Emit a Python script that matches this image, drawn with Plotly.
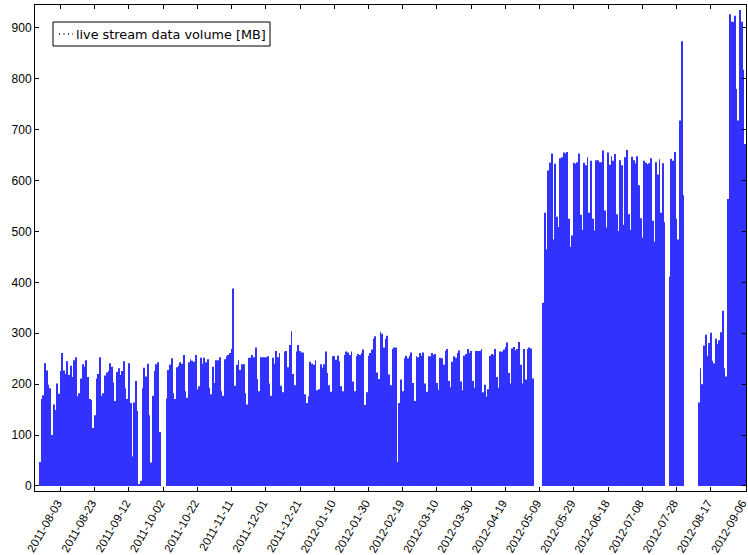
import pandas as pd
import plotly.graph_objects as go

# Daily live-stream data volume [MB], split into contiguous runs of days
seg1_start = "2011-07-22"
seg1_values = [47, 171, 178, 241, 227, 199, 192, 100, 160, 149, 201, 181, 226, 261, 227, 220,
               245, 218, 236, 214, 247, 253, 176, 182, 211, 239, 234, 247, 214, 171, 169, 114,
               139, 211, 220, 253, 177, 182, 217, 223, 226, 241, 234, 203, 167, 224, 231, 218,
               226, 245, 192, 171, 241, 163, 58, 164, 206, 147, 3, 10, 192, 232, 215, 240,
               139, 46, 177, 226, 239, 243, 106]

seg2_start = "2011-10-04"
seg2_values = [172, 228, 238, 251, 182, 171, 233, 236, 243, 240, 257, 186, 173, 243, 249, 246,
               244, 257, 190, 196, 252, 240, 252, 243, 249, 193, 180, 234, 202, 247, 247, 253,
               186, 177, 249, 255, 257, 261, 269, 388, 197, 238, 247, 228, 239, 239, 182, 160,
               252, 252, 257, 253, 272, 210, 186, 253, 253, 253, 253, 255, 201, 177, 252, 240,
               265, 253, 261, 197, 184]

seg3_start = "2011-12-12"
seg3_values = [264, 265, 233, 277, 304, 220, 198, 264, 277, 265, 262, 262, 180, 163, 176, 244,
               240, 238, 247, 188, 190, 239, 232, 239, 264, 222, 198, 185, 255, 255, 248, 256,
               245, 196, 186, 257, 264, 262, 257, 264, 205, 186, 255, 259, 257, 261, 268, 159,
               184, 256, 261, 268, 289, 294, 223, 210, 303, 299, 272, 289, 295, 219, 198, 269,
               272, 272, 47, 163, 209, 186, 251, 256, 251]

seg4_start = "2012-02-23"
seg4_values = [256, 262, 202, 167, 255, 253, 261, 256, 262, 201, 185, 255, 255, 261, 257, 259,
               202, 189, 252, 251, 238, 265, 269, 206, 194, 244, 255, 252, 261, 266, 205, 188,
               256, 259, 269, 261, 265, 206, 193, 265, 265, 265, 269, 184, 199, 175, 190, 256,
               259, 257, 269, 214, 193, 264, 264, 268, 273, 282, 222, 201, 270, 273, 266, 269,
               283, 238, 201, 269, 209, 269, 272, 270, 211]

seg5_start = "2012-05-11"
seg5_values = [360, 537, 465, 620, 635, 653, 484, 633, 529, 509, 644, 646, 655, 653, 656, 525,
               470, 492, 635, 633, 636, 653, 533, 503, 635, 630, 646, 537, 639, 525, 502, 640,
               640, 636, 636, 659, 541, 508, 655, 631, 648, 639, 652, 534, 501, 640, 630, 513,
               646, 660, 534, 503, 647, 640, 634, 648, 591, 526, 488, 639, 635, 632, 634, 644,
               521, 480, 636, 612, 642, 537, 634, 518]

seg6_start = "2012-07-24"
seg6_values = [411, 643, 639, 656, 525, 484, 718, 874, 571]

seg7_start = "2012-08-10"
seg7_values = [164, 231, 200, 276, 297, 256, 281, 301, 246, 241, 289, 279, 286, 302, 344, 231,
               215, 564, 927, 912, 912, 924, 780, 718, 935, 912, 818, 672]

segments = [(seg1_start, seg1_values), (seg2_start, seg2_values), (seg3_start, seg3_values),
            (seg4_start, seg4_values), (seg5_start, seg5_values), (seg6_start, seg6_values),
            (seg7_start, seg7_values)]

tick_labels = ["2011-08-03", "2011-08-23", "2011-09-12", "2011-10-02", "2011-10-22",
               "2011-11-11", "2011-12-01", "2011-12-21", "2012-01-10", "2012-01-30",
               "2012-02-19", "2012-03-10", "2012-03-30", "2012-04-19", "2012-05-09",
               "2012-05-29", "2012-06-18", "2012-07-08", "2012-07-28", "2012-08-17",
               "2012-09-06"]
y_ticks = [0, 100, 200, 300, 400, 500, 600, 700, 800, 900]
series_name = "live stream data volume [MB]"

dates = []
values = []
for start, vals in segments:
    dates.extend(pd.date_range(start, periods=len(vals), freq="D"))
    values.extend(vals)

fig = go.Figure()
fig.add_trace(go.Bar(
    x=dates, y=values, showlegend=False, name=series_name,
    marker=dict(color="rgb(50,50,255)", line=dict(width=0)),
))

# legend box drawn in paper coordinates (plot area: 711 x 486 px)
def px_x(p):
    return (p - 35) / 711.0

def px_y(p):
    return (491 - p) / 486.0

fig.add_shape(type="rect", xref="paper", yref="paper",
              x0=px_x(53), x1=px_x(270), y0=px_y(46), y1=px_y(22),
              line=dict(color="black", width=1), fillcolor="white", layer="above")
fig.add_shape(type="line", xref="paper", yref="paper",
              x0=px_x(59), x1=px_x(73), y0=px_y(34), y1=px_y(34),
              line=dict(color="black", width=1.3, dash="1px,3.5px"), layer="above")
fig.add_annotation(xref="paper", yref="paper", x=px_x(74), y=px_y(34),
                   xanchor="left", yanchor="middle", showarrow=False,
                   text=series_name, font=dict(family="DejaVu Sans", size=12.8, color="black"))

fig.update_layout(
    width=748, height=555,
    margin=dict(l=35, r=2, t=5, b=64),
    paper_bgcolor="white", plot_bgcolor="white",
    bargap=0.5,
    showlegend=False,
    font=dict(family="Liberation Sans", size=12, color="black"),
    xaxis=dict(
        type="date",
        range=["2011-07-19 02:00", "2012-09-06 14:00"],
        tickvals=pd.to_datetime(tick_labels), ticktext=tick_labels,
        tickangle=-60, ticks="inside", ticklen=4, tickcolor="black",
        showline=True, linecolor="black", linewidth=1, mirror="allticks",
        showgrid=False, zeroline=False, tickfont=dict(size=11.5),
        automargin=False, ticklabeloverflow="allow", ticklabelshift=-3,
    ),
    yaxis=dict(
        range=[-10, 945], tickvals=y_ticks,
        ticks="inside", ticklen=4, tickcolor="black",
        showline=True, linecolor="black", linewidth=1, mirror="allticks",
        showgrid=False, zeroline=False, tickfont=dict(size=12),
        automargin=False,
    ),
)

fig.write_html("out.html")
